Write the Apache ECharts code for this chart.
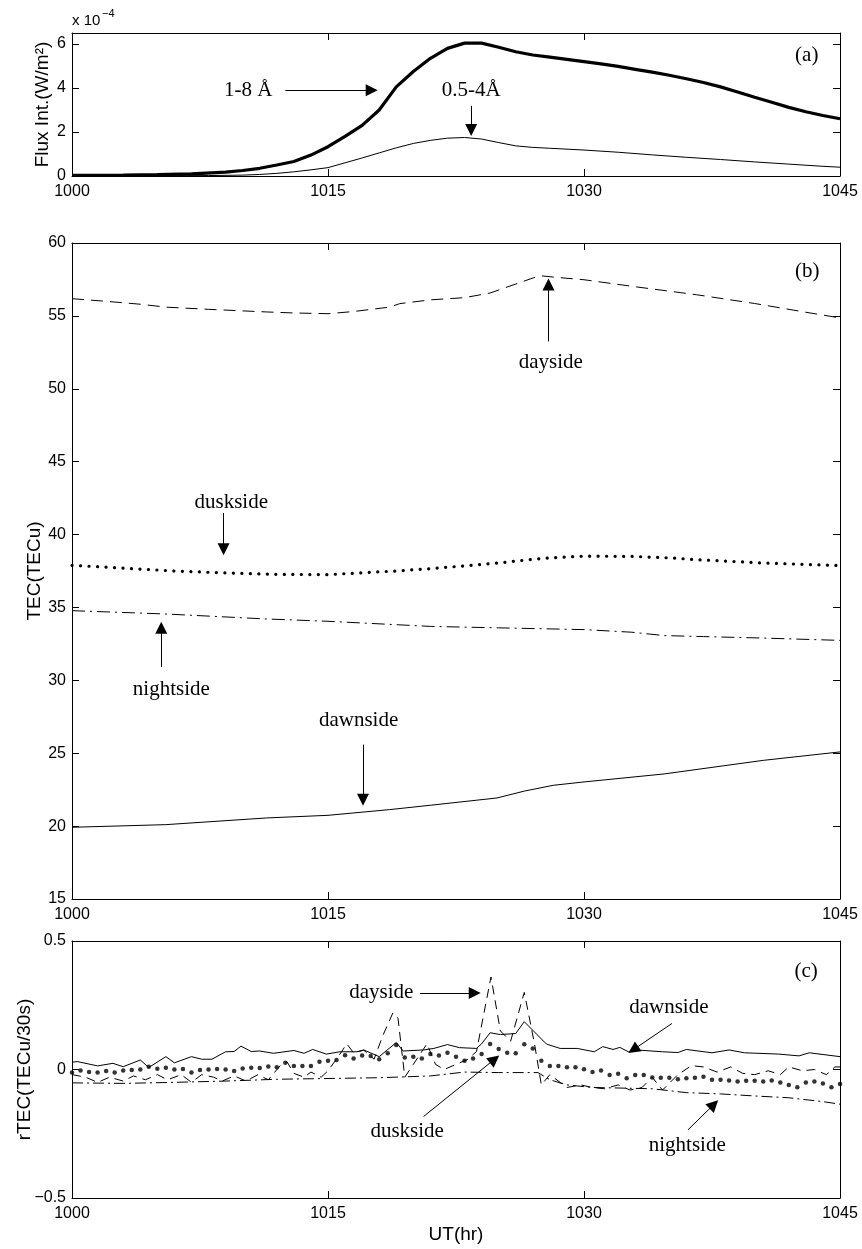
<!DOCTYPE html>
<html>
<head>
<meta charset="utf-8">
<script src="https://cdn.jsdelivr.net/npm/echarts@6/dist/echarts.min.js"></script>
<style>
html, body { margin: 0; padding: 0; background: #fff; }
#chart { width: 862px; height: 1249px; }
</style>
</head>
<body>
<div id="chart"></div>
<script>
// (a) X-ray flux, in units of 1e-4 W/m^2
var fluxLongTime = [1000, 1003, 1005, 1007, 1009, 1010, 1011, 1012, 1013, 1014, 1015, 1016, 1017, 1018, 1019, 1020, 1021, 1022, 1023, 1024, 1025, 1026, 1027, 1028, 1029, 1030, 1031, 1032, 1033, 1034, 1035, 1036, 1037, 1038, 1039, 1040, 1041, 1042, 1043, 1044, 1045];
var fluxLong = [0.03, 0.04, 0.06, 0.1, 0.18, 0.25, 0.35, 0.5, 0.66, 0.95, 1.33, 1.8, 2.3, 3.0, 4.05, 4.75, 5.35, 5.8, 6.04, 6.04, 5.85, 5.65, 5.5, 5.4, 5.3, 5.2, 5.1, 4.98, 4.85, 4.72, 4.58, 4.42, 4.25, 4.05, 3.82, 3.58, 3.35, 3.12, 2.92, 2.75, 2.6];
var fluxShortTime = [1000, 1005, 1008, 1010, 1011, 1012, 1013, 1014, 1015, 1016, 1017, 1018, 1019, 1020, 1021, 1022, 1023, 1024, 1025, 1026, 1027, 1028, 1030, 1032, 1034, 1036, 1038, 1040, 1042, 1044, 1045];
var fluxShort = [0.0, 0.01, 0.02, 0.04, 0.07, 0.12, 0.19, 0.28, 0.38, 0.6, 0.82, 1.05, 1.28, 1.48, 1.62, 1.72, 1.75, 1.68, 1.52, 1.37, 1.3, 1.26, 1.18, 1.08, 0.96, 0.85, 0.75, 0.64, 0.54, 0.44, 0.4];

// (b) TEC
var dayTime = [1000, 1002, 1004, 1005.5, 1008, 1011.4, 1013, 1015, 1016.5, 1018.6, 1019.2, 1021, 1023, 1024.5, 1027.4, 1028.4, 1030, 1033, 1036.6, 1040, 1043, 1045];
var dayTec = [56.18, 56.0, 55.8, 55.6, 55.45, 55.27, 55.2, 55.15, 55.3, 55.6, 55.84, 56.1, 56.25, 56.57, 57.76, 57.64, 57.48, 57.0, 56.45, 55.85, 55.25, 54.86];
var duskTime = [1000, 1003, 1006, 1009, 1012, 1015, 1017.3, 1019, 1021, 1023, 1025, 1027, 1028, 1030, 1032.8, 1035, 1036.6, 1040.5, 1043, 1045];
var duskTec = [37.89, 37.7, 37.5, 37.37, 37.27, 37.25, 37.4, 37.5, 37.66, 37.85, 38.05, 38.3, 38.4, 38.52, 38.5, 38.4, 38.28, 38.05, 37.95, 37.87];
var nightTime = [1000, 1005.5, 1011.4, 1015, 1021, 1025, 1030, 1032.8, 1034.7, 1037, 1040.5, 1045];
var nightTec = [34.78, 34.55, 34.21, 34.05, 33.7, 33.6, 33.48, 33.3, 33.07, 33.0, 32.9, 32.74];
var dawnTime = [1000, 1005.5, 1011.4, 1015, 1018.6, 1021, 1024.9, 1026.5, 1028.2, 1030, 1034.7, 1040.5, 1045];
var dawnTec = [19.92, 20.1, 20.56, 20.74, 21.13, 21.43, 21.93, 22.4, 22.8, 23.03, 23.58, 24.51, 25.09];

// (c) rTEC
var rDawnTime = [1000, 1000.3, 1001.5, 1002.4, 1003, 1004, 1004.5, 1005.5, 1006, 1007, 1007.6, 1008.2, 1009, 1009.5, 1009.9, 1010.5, 1011, 1011.8, 1013, 1013.6, 1014.1, 1014.9, 1015.7, 1016.7, 1017.1, 1018, 1019, 1019.4, 1020.6, 1021.2, 1022, 1022.7, 1023.7, 1024, 1024.5, 1025.1, 1026, 1026.5, 1027.8, 1028.6, 1029.6, 1030.6, 1031.1, 1031.7, 1032.1, 1032.6, 1033.3, 1034.6, 1035.5, 1036, 1037.5, 1038.5, 1039.4, 1041.4, 1042.6, 1043.2, 1045];
var rDawn = [0.028, 0.031, 0.014, 0.024, 0.011, 0.037, 0.008, 0.05, 0.026, 0.05, 0.04, 0.04, 0.069, 0.07, 0.091, 0.07, 0.072, 0.063, 0.074, 0.063, 0.078, 0.06, 0.069, 0.069, 0.076, 0.05, 0.105, 0.072, 0.076, 0.082, 0.097, 0.085, 0.082, 0.1, 0.143, 0.136, 0.14, 0.186, 0.099, 0.082, 0.082, 0.069, 0.089, 0.078, 0.086, 0.069, 0.075, 0.069, 0.066, 0.078, 0.065, 0.076, 0.065, 0.06, 0.053, 0.065, 0.05];
// dusk sampled every 30 s from 1000
var rDuskStart = 1000, rDuskStep = 0.5;
var rDusk = [
  -0.012, -0.004, -0.010, -0.012, -0.006, -0.012, -0.004, -0.002, 0.000, 0.011,
  0.003, 0.007, 0.000, 0.002, -0.012, -0.002, 0.000, 0.002, 0.000, -0.006,
  0.004, 0.007, 0.006, 0.012, 0.009, 0.026, 0.014, 0.014, 0.014, 0.030,
  0.034, 0.037, 0.055, 0.043, 0.054, 0.053, 0.040, 0.063, 0.095, 0.047,
  0.050, 0.043, 0.060, 0.054, 0.065, 0.050, 0.034, 0.043, 0.060, 0.099,
  0.080, 0.065, 0.063, 0.098, 0.082, 0.034, 0.014, 0.014, 0.009, 0.009,
  0.001, -0.010, -0.004, -0.021, -0.017, -0.034, -0.021, -0.021, -0.031, -0.032,
  -0.032, -0.038, -0.034, -0.032, -0.028, -0.040, -0.040, -0.043, -0.047, -0.044,
  -0.044, -0.047, -0.043, -0.051, -0.060, -0.069, -0.051, -0.047, -0.054, -0.069,
  -0.056
];
var rNightTime = [1000, 1003, 1006, 1009, 1012, 1015, 1018, 1021, 1023, 1025, 1027.3, 1028, 1029, 1030.5, 1032, 1034, 1036, 1038, 1040, 1042, 1044, 1045];
var rNight = [-0.052, -0.054, -0.05, -0.045, -0.038, -0.035, -0.032, -0.025, -0.01, -0.012, -0.012, -0.04, -0.06, -0.07, -0.072, -0.075, -0.09, -0.095, -0.103, -0.11, -0.125, -0.135];
var rDayTime = [1000, 1000.8, 1001.5, 1002.2, 1003, 1003.6, 1004.3, 1005, 1005.6, 1006.4, 1007, 1007.6, 1008.3, 1008.8, 1009.5, 1010.2, 1010.9, 1011.5, 1012.2, 1012.6, 1013, 1013.6, 1014, 1014.6, 1015, 1015.6, 1016.1, 1016.5, 1017.1, 1017.7, 1018.2, 1018.8, 1019.1, 1019.5, 1020, 1020.8, 1021.3, 1021.8, 1022.5, 1023.2, 1023.7, 1024.55, 1025.1, 1025.7, 1026.5, 1027.1, 1027.5, 1028, 1029, 1029.8, 1030.5, 1031.2, 1032, 1032.7, 1033.4, 1034, 1034.6, 1035.5, 1036.3, 1037, 1037.8, 1038.6, 1039.3, 1040, 1040.8, 1041.5, 1042, 1042.8, 1043.5, 1044.2, 1044.7, 1045];
var rDay = [-0.02, -0.03, -0.05, -0.03, -0.045, -0.025, -0.04, -0.02, -0.04, -0.02, -0.05, -0.02, -0.03, -0.045, -0.025, -0.045, -0.02, -0.04, 0.015, 0.03, -0.015, -0.03, -0.01, -0.03, -0.005, 0.05, 0.1, 0.065, 0.075, 0.04, 0.13, 0.22, 0.2, -0.03, 0.02, 0.1, 0.02, 0.0, 0.02, 0.04, 0.07, 0.36, 0.15, 0.11, 0.30, 0.1, -0.06, -0.02, -0.07, -0.06, -0.07, -0.075, -0.06, -0.08, -0.07, -0.03, -0.08, -0.02, 0.015, 0.01, -0.01, 0.01, -0.015, -0.02, -0.005, -0.02, 0.01, -0.005, 0.0, -0.02, 0.01, 0.01];

// annotation text [time, value, text] and arrows [fromTime, fromValue, toTime, toValue]
var labelsA = [[1010.33, 3.87, '1-8 Å'], [1023.39, 3.87, '0.5-4Å'], [1043.05, 5.47, '(a)']];
var arrowsA = [[1012.5, 3.9, 1017.56, 3.9], [1023.39, 3.19, 1023.39, 2.09]];
var labelsB = [[1028.05, 51.79, 'dayside'], [1009.33, 42.17, 'duskside'], [1005.82, 29.36, 'nightside'], [1016.79, 27.24, 'dawnside'], [1043.08, 58.03, '(b)']];
var arrowsB = [[1027.92, 53.25, 1027.92, 57.15], [1008.88, 41.48, 1008.88, 39.0], [1005.23, 30.92, 1005.23, 33.6], [1017.05, 25.59, 1017.05, 21.81]];
var labelsC = [[1018.12, 0.301, 'dayside'], [1034.97, 0.243, 'dawnside'], [1019.64, -0.241, 'duskside'], [1036.05, -0.296, 'nightside'], [1043.02, 0.38, '(c)']];
var arrowsC = [[1020.4, 0.298, 1023.6, 0.298], [1035.15, 0.179, 1032.89, 0.077], [1020.6, -0.183, 1024.76, 0.040], [1036.09, -0.235, 1037.61, -0.136]];

var SANS = '"Liberation Sans", Arial, Helvetica, sans-serif';
var SERIF = '"Liberation Serif", "Times New Roman", serif';

var pairs = function(ts, vs) {
	return ts.map(function(t, i) { return [t, vs[i]]; });
};

var rDuskPts = rDusk.map(function(v, i) { return [rDuskStart + i * rDuskStep, v]; });

var markers = function(labels, arrows) {
	return {
		markPoint: {
			silent: true,
			symbol: 'circle',
			symbolSize: 0,
			label: {
				show: true, position: 'inside', formatter: '{b}',
				color: '#000', fontFamily: SERIF, fontSize: 21
			},
			data: labels.map(function(l) { return { name: l[2], coord: [l[0], l[1]] }; })
		},
		markLine: {
			silent: true,
			symbol: ['none', 'triangle'],
			symbolSize: 12,
			label: { show: false },
			lineStyle: { color: '#000', width: 1, type: 'solid' },
			data: arrows.map(function(a) {
				return [{ coord: [a[0], a[1]] }, { coord: [a[2], a[3]] }];
			})
		}
	};
};

var axisBase = function(extra) {
	var o = {
		type: 'value',
		axisLine: { show: true, onZero: false, lineStyle: { color: '#000', width: 1 } },
		axisTick: { show: true, inside: true, length: 7, lineStyle: { color: '#000', width: 1 } },
		splitLine: { show: false },
		axisLabel: { show: true, color: '#000', fontFamily: SANS, fontSize: 16, margin: 8,
			formatter: function(v) { return String(v); } }
	};
	for (var k in extra) o[k] = extra[k];
	return o;
};

var xAxes = [], yAxes = [];
[0, 1, 2].forEach(function(g) {
	xAxes.push(axisBase({ gridIndex: g, position: 'bottom', min: 1000, max: 1045, interval: 15 }));
	xAxes.push(axisBase({ gridIndex: g, position: 'top', min: 1000, max: 1045, interval: 15,
		axisLabel: { show: false } }));
});
xAxes[4].name = 'UT(hr)';
xAxes[4].nameLocation = 'middle';
xAxes[4].nameGap = 27;
xAxes[4].nameMoveOverlap = false;
xAxes[4].nameTextStyle = { color: '#000', fontFamily: SANS, fontSize: 19 };

var yRanges = [
	{ min: 0, max: 6.5, interval: 2, name: 'Flux Int.(W/m²)', gap: 20,
		fmt: function(v) { return v % 2 === 0 ? String(v) : ''; } },
	{ min: 15, max: 60, interval: 5, name: 'TEC(TECu)', gap: 28,
		fmt: function(v) { return String(v); } },
	{ min: -0.5, max: 0.5, interval: 0.5, name: 'rTEC(TECu/30s)', gap: 38,
		fmt: function(v) { return v === 0 ? '0' : (v < 0 ? '\u2212' : '') + Math.abs(v); } }
];
yRanges.forEach(function(r, g) {
	yAxes.push(axisBase({
		gridIndex: g, position: 'left', min: r.min, max: r.max, interval: r.interval,
		name: r.name, nameLocation: 'middle', nameGap: r.gap, nameMoveOverlap: false,
		nameTextStyle: { color: '#000', fontFamily: SANS, fontSize: 19 },
		axisLabel: { show: true, color: '#000', fontFamily: SANS, fontSize: 16, margin: 6, formatter: r.fmt }
	}));
	yAxes.push(axisBase({
		gridIndex: g, position: 'right', min: r.min, max: r.max, interval: r.interval,
		axisLabel: { show: false }
	}));
});

var lineSeries = function(data, xi, yi, width, type, extra) {
	var s = {
		type: 'line', data: data, xAxisIndex: xi, yAxisIndex: yi,
		showSymbol: false, symbol: 'none', smooth: false, silent: true,
		lineStyle: { color: '#000', width: width, type: type }
	};
	for (var k in extra) s[k] = extra[k];
	return s;
};

var option = {
	animation: false,
	backgroundColor: '#fff',
	grid: [
		{ left: 72, right: 22, top: 33, height: 143, outerBoundsMode: 'none' },
		{ left: 72, right: 22, top: 243, height: 656, outerBoundsMode: 'none' },
		{ left: 72, right: 22, top: 941, height: 257, outerBoundsMode: 'none' }
	],
	xAxis: xAxes,
	yAxis: yAxes,
	graphic: [
		{ type: 'text', left: 72, top: 13, style: { text: 'x 10', fill: '#000', font: '15px ' + SANS } },
		{ type: 'text', left: 102, top: 8, style: { text: '\u22124', fill: '#000', font: '11px ' + SANS } }
	],
	series: [
		lineSeries(pairs(fluxLongTime, fluxLong), 0, 0, 3.2, 'solid', markers(labelsA, arrowsA)),
		lineSeries(pairs(fluxShortTime, fluxShort), 0, 0, 1, 'solid'),

		lineSeries(pairs(dayTime, dayTec), 2, 2, 1, [12, 7], markers(labelsB, arrowsB)),
		lineSeries(pairs(duskTime, duskTec), 2, 2, 3.2, [0.1, 8.4], { lineStyle: { color: '#000', width: 3.2, type: [0.1, 8.4], cap: 'round' } }),
		lineSeries(pairs(nightTime, nightTec), 2, 2, 1, [13, 5, 2, 5]),
		lineSeries(pairs(dawnTime, dawnTec), 2, 2, 1, 'solid'),

		lineSeries(pairs(rDawnTime, rDawn), 4, 4, 1, 'solid', markers(labelsC, arrowsC)),
		lineSeries(pairs(rDayTime, rDay), 4, 4, 1, [9, 6]),
		lineSeries(pairs(rNightTime, rNight), 4, 4, 1, [11, 4, 2, 4]),
		{
			type: 'scatter', data: rDuskPts, xAxisIndex: 4, yAxisIndex: 4, silent: true,
			symbol: 'circle', symbolSize: 4.5, itemStyle: { color: '#000' }
		}
	]
};

var byId = function(id) {
	return document.getElementById(id);
};
var chart = echarts.init(byId('chart'));
chart.setOption(option);
</script>
</body>
</html>
